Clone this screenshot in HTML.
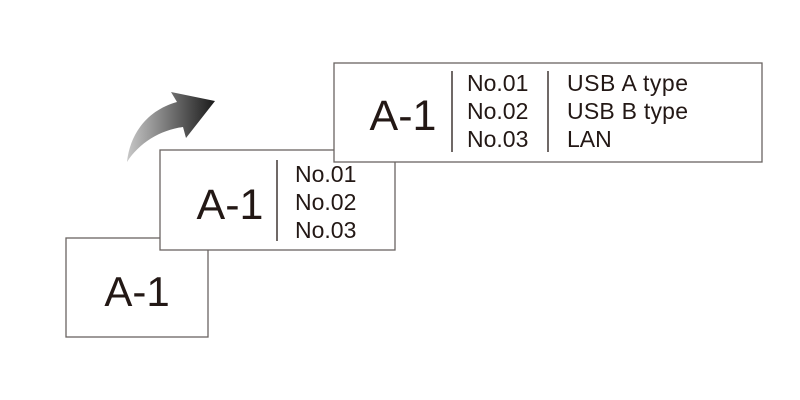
<html><body style="margin:0;width:800px;height:400px;background:#fff;position:relative;font-family:'Liberation Sans',sans-serif;color:#231815">
<svg width="800" height="400" style="position:absolute;left:0;top:0">
<defs><linearGradient id="g" x1="127" y1="0" x2="215" y2="0" gradientUnits="userSpaceOnUse"><stop offset="0" stop-color="#c8c8c8"/><stop offset="1" stop-color="#1a1a1a"/></linearGradient></defs>
<path d="M127,162 C130,133 148,110 177,102 L171,92 L215,101 L186,138 L183,127 C160,130 139,143 127,162 Z" fill="url(#g)"/>
<g fill="#fff" stroke="#6a6462" stroke-width="1.3">
<rect x="66" y="238" width="142" height="99"/>
<rect x="160" y="150" width="235" height="100"/>
<rect x="334" y="63" width="428" height="99"/>
</g>
<g stroke="#231815" stroke-width="1.3">
<line x1="277" y1="160" x2="277" y2="241"/>
<line x1="452" y1="71" x2="452" y2="152"/>
<line x1="548" y1="71" x2="548" y2="152"/>
</g>
<g fill="#231815" font-family="Liberation Sans, sans-serif">
<text x="137" y="306" font-size="42" text-anchor="middle">A-1</text>
<text x="230" y="219" font-size="43" text-anchor="middle">A-1</text>
<text x="403" y="130" font-size="43" text-anchor="middle">A-1</text>
<g font-size="23">
<text x="295" y="182">No.01</text><text x="295" y="210">No.02</text><text x="295" y="238">No.03</text>
<text x="467" y="91">No.01</text><text x="467" y="119">No.02</text><text x="467" y="147">No.03</text>
<text x="567" y="91" textLength="121">USB A type</text><text x="567" y="119" textLength="121">USB B type</text><text x="567" y="147">LAN</text>
</g></g>
</svg>
</body></html>
